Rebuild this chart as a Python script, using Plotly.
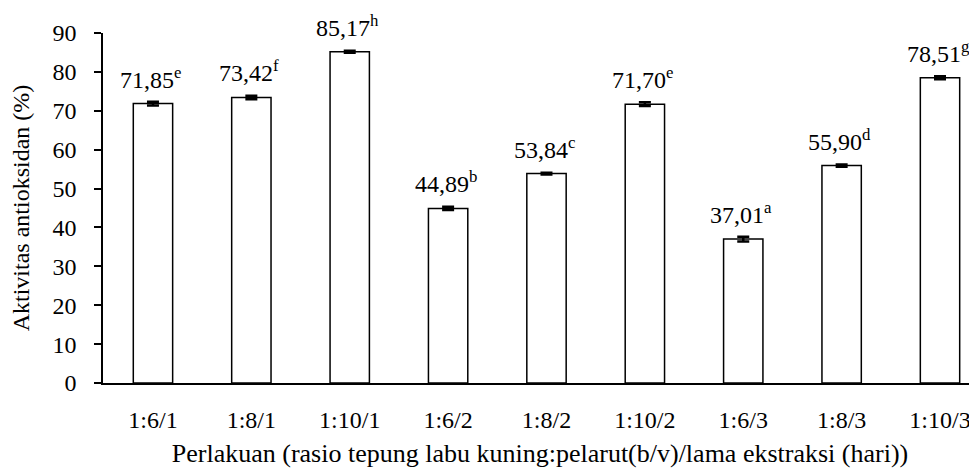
import plotly.graph_objects as go

categories = ["1:6/1", "1:8/1", "1:10/1", "1:6/2", "1:8/2", "1:10/2", "1:6/3", "1:8/3", "1:10/3"]
values = [71.85, 73.42, 85.17, 44.89, 53.84, 71.70, 37.01, 55.90, 78.51]
errors = [0.5, 0.45, 0.25, 0.4, 0.25, 0.5, 0.6, 0.3, 0.4]
letters = ["e", "f", "h", "b", "c", "e", "a", "d", "g"]
y_ticks = [0, 10, 20, 30, 40, 50, 60, 70, 80, 90]

FONT = "Liberation Serif, Times New Roman, serif"

fig = go.Figure()
fig.add_trace(go.Bar(
    x=categories, y=values, width=0.4,
    marker=dict(color="white", line=dict(color="black", width=1.5)),
    error_y=dict(type="data", array=errors, visible=True, color="black", thickness=2.5, width=6),
    showlegend=False,
))

annotations = []
for c, v, l in zip(categories, values, letters):
    annotations.append(dict(
        x=c, y=v, xref="x", yref="y", yanchor="bottom", yshift=9, xshift=-2,
        text=f"{v:.2f}".replace(".", ",") + f"<sup>{l}</sup>",
        showarrow=False, font=dict(family=FONT, size=24, color="black"),
    ))

# the page body has an 8px margin, so the figure is 8px smaller than the window
fig.update_layout(
    width=969, height=460,
    margin=dict(l=95, r=0, t=25, b=85),
    plot_bgcolor="white", paper_bgcolor="white",
    font=dict(family=FONT, size=22, color="black"),
    annotations=annotations,
    xaxis=dict(
        range=[-0.508, 8.376], showline=True, linecolor="black", linewidth=1.5,
        ticks="outside", ticklen=14, tickcolor="rgba(0,0,0,0)",
        tickfont=dict(size=24), automargin=False,
        title=dict(text="Perlakuan (rasio tepung labu kuning:pelarut(b/v)/lama ekstraksi (hari))",
                   font=dict(size=26), standoff=14),
    ),
    yaxis=dict(
        range=[0, 90], tickvals=y_ticks, showline=True, linecolor="black", linewidth=1.5,
        ticks="outside", ticklen=7, tickcolor="black", tickwidth=1.5, showgrid=False,
        zeroline=False, tickfont=dict(size=24), ticklabelstandoff=13, automargin=False,
        title=dict(text="Aktivitas antioksidan (%)", font=dict(size=24), standoff=21),
    ),
    bargap=0.6,
)

fig.write_html("out.html")
